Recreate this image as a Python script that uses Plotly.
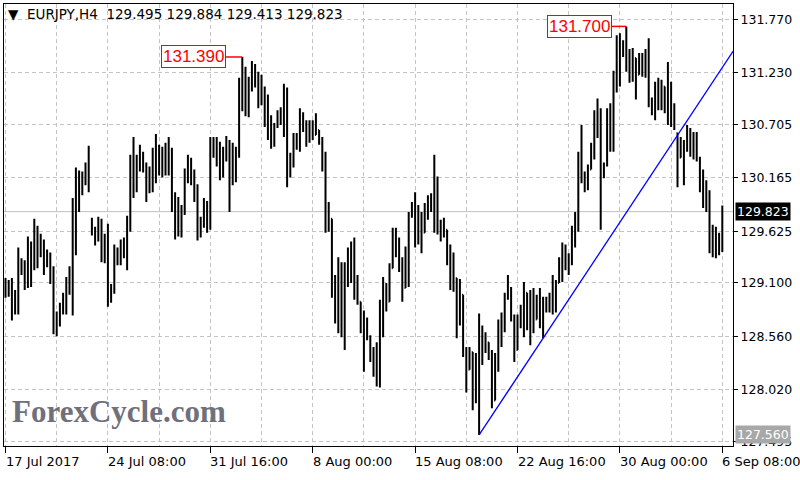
import plotly.graph_objects as go

# ---------------- data (EURJPY H4) ----------------
highs = [
    129.15, 129.13, 129.15, 129.03, 129.46, 129.35, 129.33, 129.57, 129.52, 129.75,
    129.68, 129.60, 129.54, 129.44, 129.41, 129.27, 128.81, 128.90, 129.00, 129.16,
    129.27, 129.96, 130.27, 130.24, 130.23, 130.32, 130.49, 129.76, 129.67, 129.77,
    129.75, 129.60, 129.70, 129.09, 129.49, 129.46, 129.54, 129.56, 129.78, 130.40,
    130.58, 130.40, 130.50, 130.43, 130.32, 130.28, 130.47, 130.61, 130.50, 130.48,
    130.52, 130.58, 130.47, 130.02, 129.97, 129.89, 130.26, 130.40, 130.37, 130.25,
    130.10, 129.77, 129.96, 129.93, 130.58, 130.58, 130.58, 130.53, 130.48, 130.59,
    130.55, 130.52, 130.48, 131.18, 131.39, 131.29, 131.19, 131.35, 131.32, 131.24,
    131.21, 131.09, 131.01, 130.80, 130.72, 130.85, 130.88, 131.12, 131.08, 130.42,
    130.62, 130.62, 130.87, 130.83, 130.75, 130.75, 130.75, 130.82, 130.65, 130.58,
    130.43, 129.92, 129.75, 129.18, 129.36, 129.31, 129.31, 129.46, 129.52, 129.56,
    129.18, 128.91, 128.82, 128.75, 128.57, 128.45, 128.50, 128.93, 129.16, 129.10,
    129.30, 129.66, 129.66, 129.56, 129.36, 129.47, 129.82, 129.92, 130.02, 129.89,
    129.82, 129.91, 129.99, 130.01, 130.40, 130.18, 129.74, 129.76, 129.64, 129.49,
    129.41, 129.15, 129.14, 128.98, 128.45, 128.45, 128.40, 128.39, 128.79, 128.67,
    128.60, 128.50, 128.42, 128.39, 128.73, 128.80, 129.00, 129.18, 129.06, 128.78,
    128.78, 128.88, 129.11, 129.00, 129.03, 129.05, 128.98, 129.05, 128.96, 128.96,
    129.00, 129.18, 129.13, 129.36, 129.51, 129.49, 129.40, 129.68, 129.82, 130.43,
    130.70, 130.23, 130.30, 130.52, 130.85, 130.97, 130.87, 130.32, 130.87, 130.92,
    131.25, 131.61, 131.63, 131.56, 131.70, 131.47, 131.48, 131.38, 131.43, 131.43,
    131.47, 131.58, 130.98, 131.14, 131.18, 131.16, 131.09, 131.34, 131.14, 130.92,
    130.62, 130.58, 130.55, 130.70, 130.67, 130.63, 130.63, 130.38, 130.25, 130.14,
    130.04, 129.69, 129.67, 129.61, 129.884,
]
lows = [
    128.95, 128.96, 128.72, 128.78, 128.78, 129.18, 129.03, 129.05, 129.06, 129.23,
    129.25, 129.36, 129.18, 129.26, 129.09, 128.58, 128.56, 128.66, 128.78, 128.78,
    128.98, 128.77, 129.38, 129.82, 129.99, 130.09, 130.02, 129.58, 129.48, 129.52,
    129.31, 129.30, 128.86, 128.90, 128.99, 129.28, 129.28, 129.35, 129.23, 129.62,
    129.96, 130.02, 130.23, 130.22, 129.92, 130.01, 130.02, 130.11, 130.19, 130.17,
    130.19, 130.19, 129.82, 129.54, 129.57, 129.56, 129.79, 130.11, 130.09, 129.92,
    129.53, 129.56, 129.66, 129.61, 129.64, 130.37, 130.28, 130.14, 130.17, 130.33,
    129.82, 130.09, 130.12, 130.37, 130.84, 130.79, 130.78, 131.04, 131.08, 130.87,
    130.90, 130.68, 130.55, 130.46, 130.48, 130.67, 130.70, 130.58, 130.07, 130.17,
    130.27, 130.45, 130.43, 130.63, 130.48, 130.52, 130.55, 130.60, 130.50, 130.23,
    129.61, 129.62, 128.95, 128.69, 128.59, 128.55, 128.42, 129.06, 129.10, 128.93,
    128.88, 128.59, 128.20, 128.52, 128.30, 128.15, 128.05, 128.04, 128.55, 128.81,
    128.91, 129.25, 129.36, 129.21, 128.91, 129.05, 129.06, 129.76, 129.46, 129.49,
    129.40, 129.61, 129.74, 129.82, 129.61, 129.59, 129.52, 129.56, 129.28, 129.03,
    129.01, 128.54, 128.67, 128.35, 127.99, 128.22, 127.81, 127.88, 127.56, 128.27,
    128.39, 128.32, 127.83, 127.91, 128.20, 128.45, 128.60, 128.93, 128.71, 128.30,
    128.42, 128.64, 128.55, 128.62, 128.47, 128.59, 128.73, 128.64, 128.54, 128.80,
    128.80, 128.78, 128.80, 129.10, 129.11, 129.23, 129.18, 129.28, 129.46, 129.62,
    130.11, 130.02, 130.04, 130.25, 130.35, 130.57, 129.64, 130.16, 130.28, 130.43,
    130.43, 131.03, 131.09, 131.39, 131.24, 131.13, 131.14, 130.96, 131.21, 131.19,
    131.18, 130.88, 130.80, 130.75, 130.85, 130.85, 130.82, 130.70, 130.68, 130.65,
    130.07, 130.37, 130.09, 130.43, 130.38, 130.35, 130.33, 130.02, 129.86, 129.82,
    129.40, 129.36, 129.35, 129.38, 129.413,
]
opens = [
    129.10, 129.00, 129.10, 128.80, 128.95, 129.30, 129.25, 129.10, 129.45, 129.40,
    129.65, 129.50, 129.45, 129.30, 129.35, 129.15, 128.65, 128.75, 128.85, 128.95,
    129.10, 129.05, 129.85, 130.20, 130.05, 130.20, 130.10, 129.70, 129.60, 129.62,
    129.55, 129.40, 129.55, 128.95, 129.05, 129.40, 129.35, 129.45, 129.40, 129.70,
    130.30, 130.15, 130.35, 130.30, 130.25, 130.05, 130.20, 130.40, 130.30, 130.25,
    130.40, 130.30, 130.45, 129.95, 129.65, 129.80, 129.80, 130.20, 130.30, 130.20,
    130.00, 129.65, 129.70, 129.90, 129.70, 130.45, 130.50, 130.35, 130.25, 130.40,
    130.50, 130.10, 130.40, 130.40, 131.10, 130.95, 131.15, 131.05, 131.25, 131.15,
    130.95, 131.05, 130.75, 130.60, 130.55, 130.70, 130.80, 130.75, 131.00, 130.20,
    130.35, 130.55, 130.50, 130.80, 130.70, 130.55, 130.70, 130.60, 130.65, 130.55,
    130.30, 129.70, 129.75, 129.05, 128.80, 129.25, 128.65, 129.20, 129.40, 129.15,
    129.00, 128.91, 128.65, 128.55, 128.55, 128.35, 128.20, 128.40, 128.85, 129.00,
    128.91, 129.25, 129.55, 129.45, 129.30, 129.05, 129.40, 129.80, 129.85, 129.60,
    129.75, 129.61, 129.85, 129.90, 129.85, 129.70, 129.65, 129.60, 129.64, 129.35,
    129.10, 129.15, 128.70, 128.98, 128.40, 128.22, 128.40, 127.90, 128.30, 128.60,
    128.40, 128.50, 128.35, 127.91, 128.30, 128.65, 128.70, 128.95, 129.05, 128.75,
    128.42, 128.75, 128.70, 129.00, 128.65, 128.90, 128.73, 128.90, 128.70, 128.85,
    128.90, 128.85, 129.10, 129.10, 129.30, 129.40, 129.30, 129.35, 129.60, 129.75,
    130.35, 130.20, 130.10, 130.25, 130.45, 130.75, 130.85, 130.25, 130.30, 130.80,
    130.50, 131.15, 131.50, 131.45, 131.50, 131.30, 131.20, 131.38, 131.21, 131.35,
    131.25, 131.40, 130.95, 130.85, 131.05, 130.95, 131.09, 130.90, 130.80, 130.75,
    130.62, 130.37, 130.50, 130.45, 130.50, 130.40, 130.55, 130.35, 130.10, 130.00,
    129.90, 129.50, 129.60, 129.40, 129.495,
]
closes = [
    129.00, 129.10, 128.80, 128.95, 129.30, 129.25, 129.10, 129.45, 129.40, 129.65,
    129.50, 129.45, 129.30, 129.35, 129.15, 128.65, 128.75, 128.85, 128.95, 129.10,
    129.05, 129.85, 130.20, 130.05, 130.20, 130.15, 130.05, 129.60, 129.62, 129.55,
    129.40, 129.55, 128.95, 129.05, 129.40, 129.35, 129.45, 129.40, 129.70, 130.30,
    130.15, 130.35, 130.30, 130.25, 130.05, 130.20, 130.40, 130.30, 130.25, 130.40,
    130.30, 130.45, 129.95, 129.65, 129.80, 129.70, 130.20, 130.30, 130.20, 130.00,
    129.65, 129.70, 129.90, 129.70, 130.45, 130.50, 130.35, 130.25, 130.40, 130.50,
    129.95, 130.40, 130.30, 131.10, 130.95, 131.20, 130.90, 131.25, 131.15, 130.95,
    131.10, 130.75, 130.60, 130.55, 130.70, 130.80, 130.75, 131.00, 130.20, 130.35,
    130.55, 130.50, 130.80, 130.70, 130.55, 130.70, 130.60, 130.75, 130.55, 130.30,
    129.70, 129.75, 129.05, 128.80, 129.25, 128.65, 129.20, 129.40, 129.15, 129.00,
    128.95, 128.65, 128.30, 128.70, 128.35, 128.20, 128.40, 128.85, 129.00, 128.85,
    129.25, 129.55, 129.45, 129.30, 129.00, 129.40, 129.80, 129.85, 129.60, 129.75,
    129.50, 129.85, 129.90, 129.85, 129.70, 129.65, 129.60, 129.70, 129.35, 129.10,
    129.30, 128.65, 129.00, 128.40, 128.05, 128.40, 127.90, 128.30, 128.60, 128.40,
    128.50, 128.35, 127.90, 128.30, 128.65, 128.70, 128.95, 129.05, 128.75, 128.40,
    128.75, 128.70, 129.05, 128.65, 128.90, 128.70, 128.90, 128.70, 128.85, 128.90,
    128.85, 129.10, 129.05, 129.30, 129.40, 129.30, 129.35, 129.60, 129.75, 130.35,
    130.20, 130.10, 130.25, 130.45, 130.75, 130.85, 130.25, 130.30, 130.80, 130.50,
    131.15, 131.50, 131.45, 131.50, 131.30, 131.20, 131.40, 131.05, 131.35, 131.25,
    131.40, 130.95, 130.85, 131.05, 130.95, 131.10, 130.90, 130.80, 130.75, 130.70,
    130.15, 130.50, 130.45, 130.50, 130.40, 130.55, 130.35, 130.10, 130.00, 129.90,
    129.50, 129.60, 129.40, 129.495, 129.823,
]

x_tick_bars = [0, 32, 64, 96, 128, 160, 192, 224]
x_tick_labels = ["17 Jul 2017", "24 Jul 08:00", "31 Jul 16:00", "8 Aug 00:00",
                 "15 Aug 08:00", "22 Aug 16:00", "30 Aug 00:00", "6 Sep 08:00"]
x_grid_bars = [16, 48, 80, 112, 144, 176, 208]
y_ticks = [131.770, 131.230, 130.705, 130.165, 129.625, 129.100, 128.560, 128.020, 127.495]

current_price = 129.823
low_level = 127.560
trend_x = [148, 227.4]
trend_y = [127.56, 131.45]
label_hi1 = dict(bar=74, price=131.390, box_right=68.8)
label_hi2 = dict(bar=194, price=131.700, box_right=189.5)
header = "▼  EURJPY,H4  129.495 129.884 129.413 129.823"

# ---------------- figure ----------------
bars = list(range(len(highs)))
GRID = "#c4c4c4"
FONT = "DejaVu Sans"

fig = go.Figure()
fig.add_trace(go.Ohlc(
    x=bars, open=opens, high=highs, low=lows, close=closes,
    increasing=dict(line=dict(color="black", width=2)),
    decreasing=dict(line=dict(color="black", width=2)),
    tickwidth=0.3, hoverinfo="skip", showlegend=False,
))
fig.add_trace(go.Scatter(
    x=trend_x, y=trend_y, mode="lines",
    line=dict(color="#0000ff", width=1.3), hoverinfo="skip", showlegend=False,
))

shapes = [
    dict(type="line", xref="paper", x0=0, x1=1, yref="y", y0=current_price, y1=current_price,
         line=dict(color="#c0c0c0", width=1), layer="below"),
    dict(type="line", xref="x", x0=label_hi1["box_right"], x1=label_hi1["bar"],
         yref="y", y0=label_hi1["price"], y1=label_hi1["price"], line=dict(color="red", width=1.5)),
    dict(type="line", xref="x", x0=label_hi2["box_right"], x1=label_hi2["bar"],
         yref="y", y0=label_hi2["price"], y1=label_hi2["price"], line=dict(color="red", width=1.5)),
]

annotations = [
    dict(xref="paper", yref="paper", x=0.003, y=0.977, xanchor="left", yanchor="middle",
         text=header, showarrow=False, font=dict(family=FONT, size=13.5, color="black")),
    dict(xref="paper", yref="paper", x=0, xshift=6, y=0.077, xanchor="left", yanchor="middle",
         text="<b>ForexCycle.com</b>", showarrow=False,
         font=dict(family="Liberation Serif", size=31, color="#6e717c")),
    dict(xref="x", yref="y", x=label_hi1["box_right"], y=label_hi1["price"], xanchor="right",
         yanchor="middle", text=f"{label_hi1['price']:.3f}", showarrow=False,
         font=dict(family="Liberation Sans", size=17, color="red"),
         bgcolor="white", bordercolor="red", borderwidth=1, borderpad=1),
    dict(xref="x", yref="y", x=label_hi2["box_right"], y=label_hi2["price"], xanchor="right",
         yanchor="middle", text=f"{label_hi2['price']:.3f}", showarrow=False,
         font=dict(family="Liberation Sans", size=17, color="red"),
         bgcolor="white", bordercolor="red", borderwidth=1, borderpad=1),
    dict(xref="paper", yref="y", x=1, xshift=2, y=current_price, xanchor="left", yanchor="middle",
         text=f"{current_price:.3f}", showarrow=False,
         font=dict(family=FONT, size=12.5, color="white"), bgcolor="black", borderpad=1),
    dict(xref="paper", yref="y", x=1, xshift=2, y=low_level, xanchor="left", yanchor="middle",
         text=f"{low_level:.3f}", showarrow=False,
         font=dict(family=FONT, size=12.5, color="white"), bgcolor="#a8a8a8", borderpad=1),
]
# x-axis date labels, left-aligned at their tick like the terminal does
for b, lab in zip(x_tick_bars, x_tick_labels):
    annotations.append(dict(xref="x", yref="paper", x=b, y=0, xanchor="left", yanchor="middle",
                            xshift=-2, yshift=-15.5, text=lab, showarrow=False,
                            font=dict(family=FONT, size=13, color="black")))

fig.update_layout(
    width=800, height=480,
    margin=dict(l=4, r=67, t=4, b=34, autoexpand=False),
    paper_bgcolor="white", plot_bgcolor="white",
    shapes=shapes, annotations=annotations,
    hovermode=False, showlegend=False,
    font=dict(family=FONT, size=12.5, color="black"),
)
fig.update_xaxes(
    range=[-0.47, 227.34], rangeslider=dict(visible=False),
    tickmode="array", tickvals=x_tick_bars, showticklabels=False,
    ticks="outside", ticklen=6, tickcolor="black",
    showgrid=True, gridcolor=GRID, griddash="4px,3px", gridwidth=1,
    minor=dict(tickmode="array", tickvals=x_grid_bars, showgrid=True, gridcolor=GRID,
               griddash="4px,3px", ticks=""),
    showline=True, linecolor="black", linewidth=1, mirror=True, zeroline=False,
)
fig.update_yaxes(
    range=[127.448, 131.927], side="right",
    tickmode="array", tickvals=y_ticks, ticktext=[f"{v:.3f}" for v in y_ticks],
    ticks="outside", ticklen=4, tickcolor="black",
    showgrid=True, gridcolor=GRID, griddash="4px,3px", gridwidth=1,
    showline=True, linecolor="black", linewidth=1, mirror=True, zeroline=False,
    tickfont=dict(family=FONT, size=12.5, color="black"),
)

fig.write_html(
    "out.html",
    config={"displayModeBar": False, "staticPlot": True},
    post_script="document.body.style.margin='0';document.body.style.overflow='hidden';",
)
